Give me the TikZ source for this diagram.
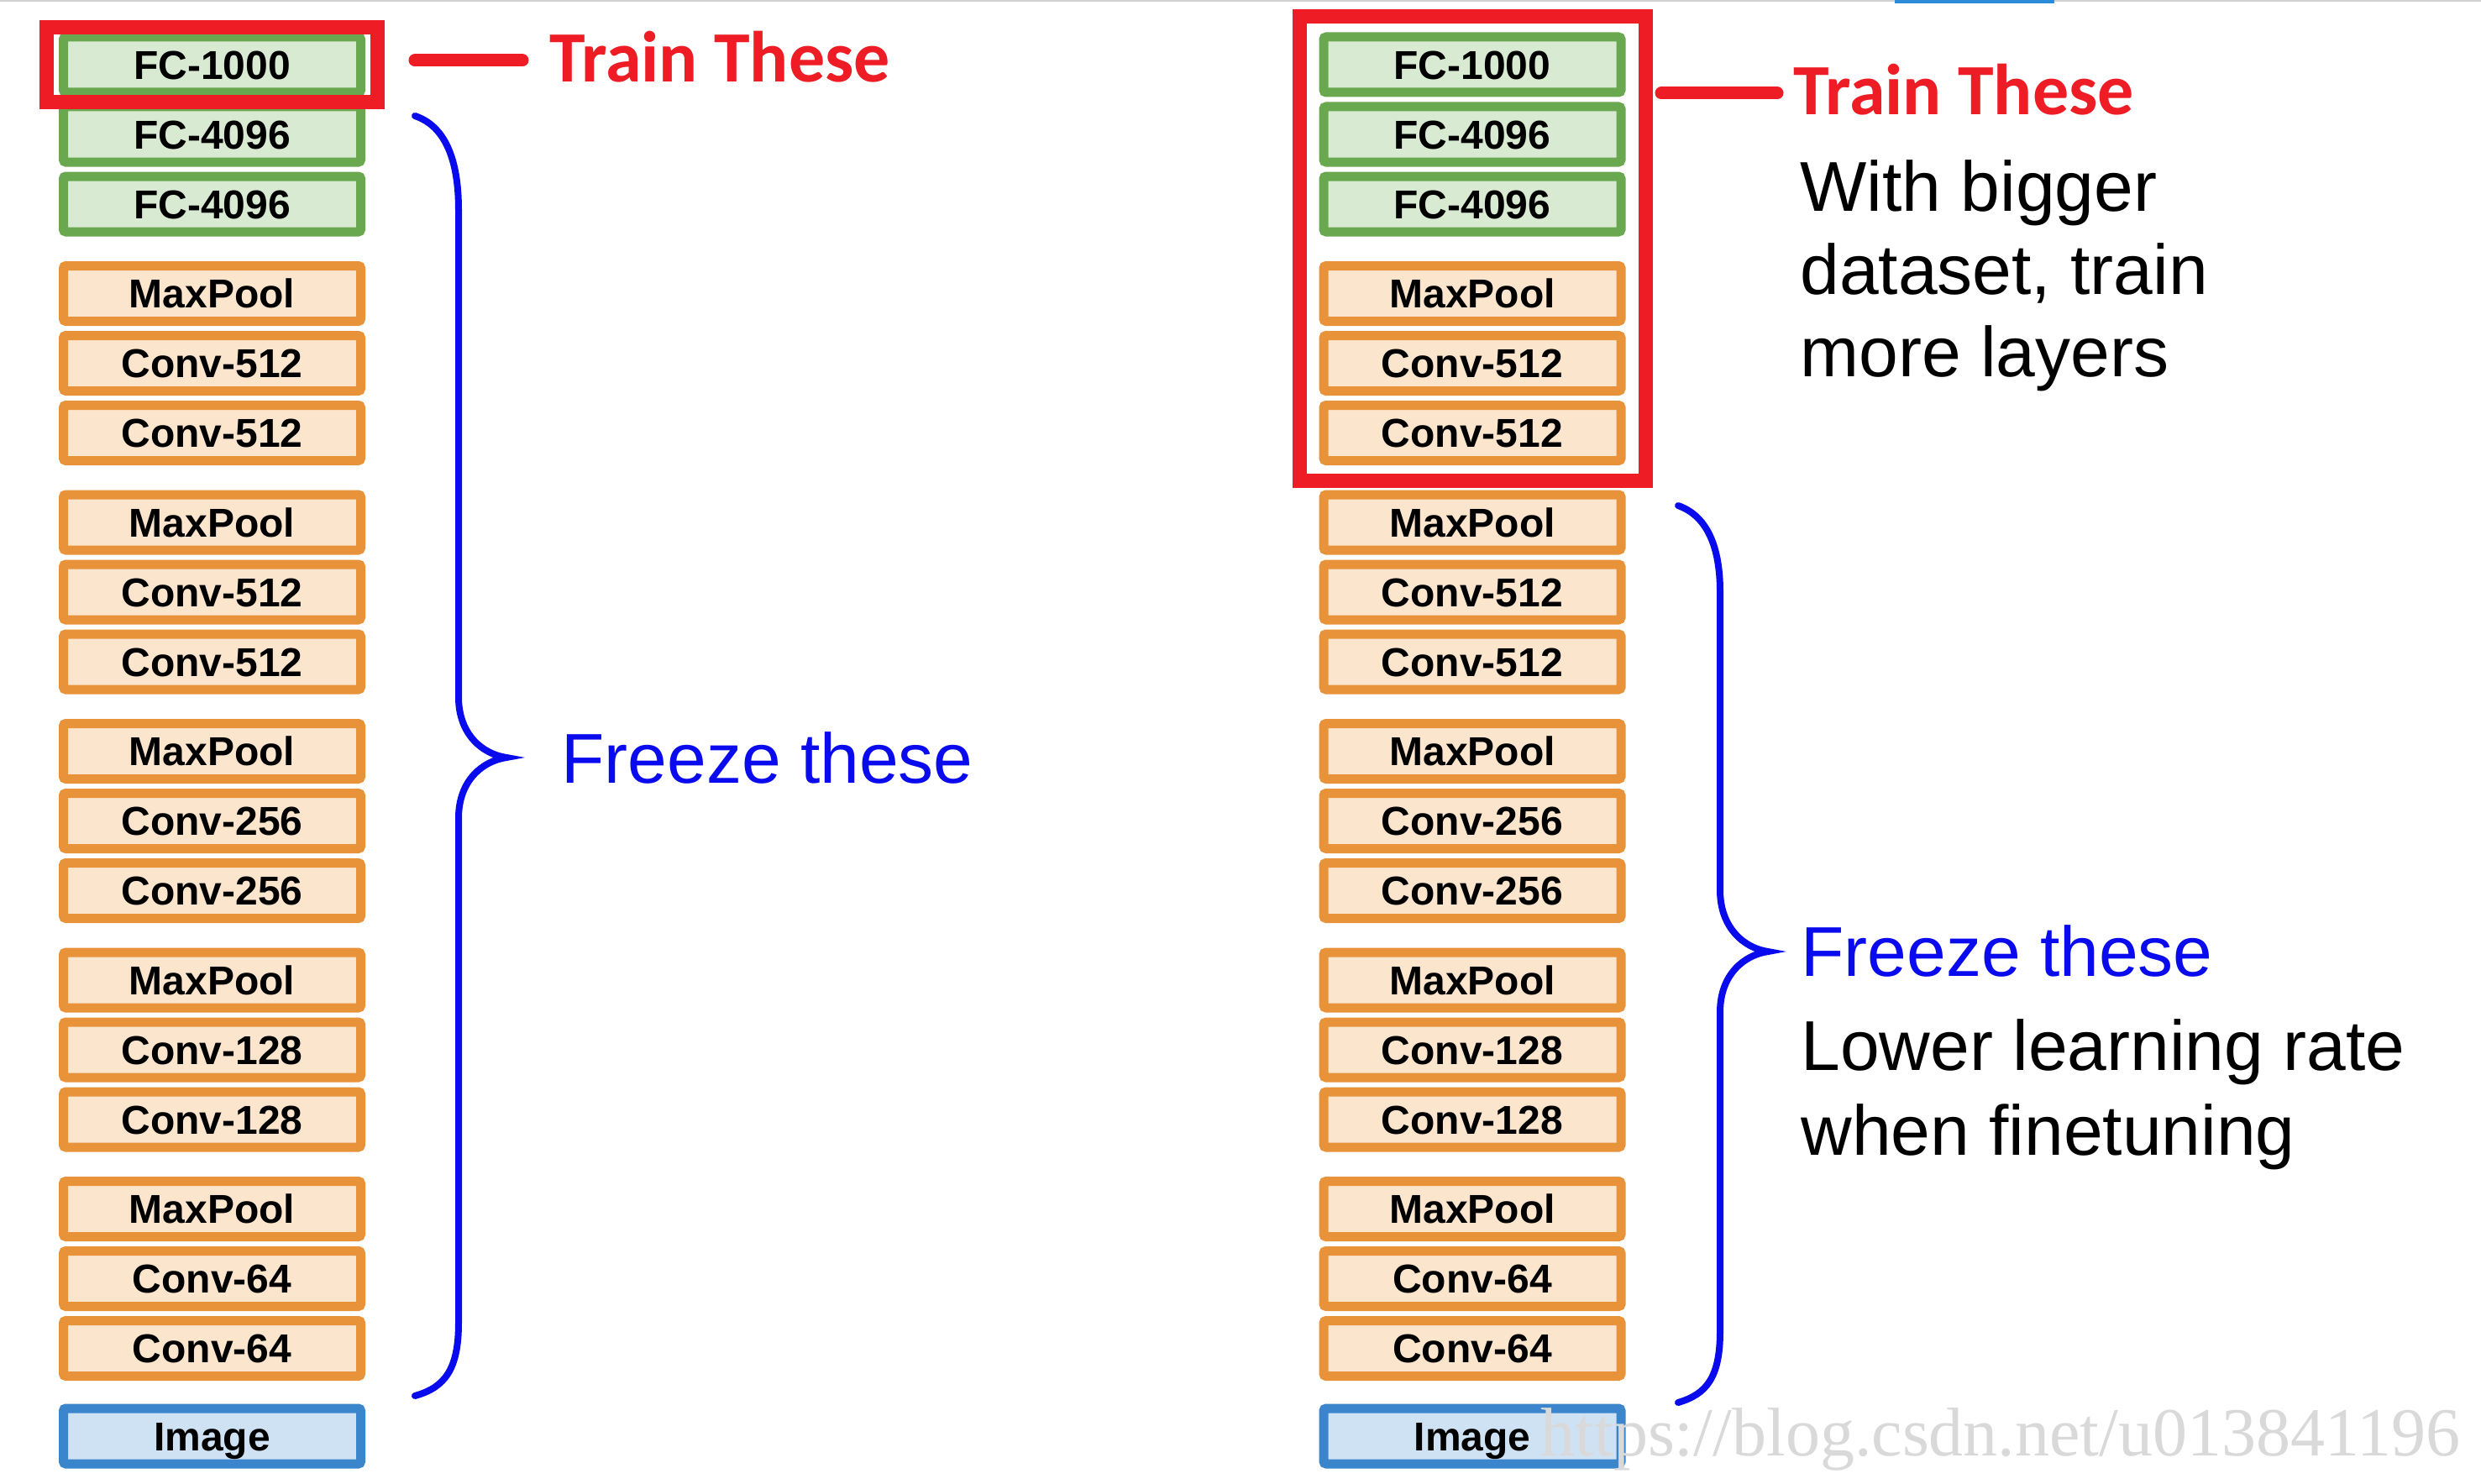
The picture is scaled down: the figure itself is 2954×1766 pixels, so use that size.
\documentclass[tikz,border=0pt]{standalone}
\usepackage{fontspec}
\setmainfont{Liberation Sans}
\newfontfamily\arialf{Liberation Sans}
\newfontfamily\calibrif{Carlito}
\newfontfamily\timesf{Liberation Serif}
\usetikzlibrary{fit}
\definecolor{gbord}{HTML}{6AA84F}
\definecolor{gfill}{HTML}{D9EAD3}
\definecolor{obord}{HTML}{E8923A}
\definecolor{ofill}{HTML}{FCE5CD}
\definecolor{bbord}{HTML}{3A85CC}
\definecolor{bfill}{HTML}{CFE2F3}
\definecolor{redc}{HTML}{EE1C24}
\definecolor{bluec}{HTML}{0A0AEE}
\definecolor{topblue}{HTML}{2B8BD8}
\tikzset{
  layer/.style={draw, line width=5.5pt, rounded corners=1.5pt,
    minimum width=177pt, minimum height=33pt, inner sep=0pt,
    text height=17.2pt, text depth=0pt,
    font=\arialf\bfseries\fontsize{24}{28}\selectfont},
  fcbox/.style={layer, draw=gbord, fill=gfill},
  cvbox/.style={layer, draw=obord, fill=ofill},
  imbox/.style={layer, draw=bbord, fill=bfill},
  redframe/.style={draw=redc, line width=8.5pt},
  redline/.style={draw=redc, line width=7.5pt, line cap=round},
  redtitle/.style={anchor=base west, inner sep=0pt, text=redc,
    font=\calibrif\bfseries\fontsize{43}{50}\selectfont},
  bluetxt/.style={anchor=base west, inner sep=0pt, text=bluec,
    font=\arialf\fontsize{42}{50}\selectfont},
  blacktxt/.style={anchor=base west, inner sep=0pt, text=black,
    font=\arialf\fontsize{42}{50}\selectfont},
  bracestyle/.style={draw=bluec, line width=4pt, line cap=round},
  wmark/.style={anchor=base west, inner sep=0pt, text=black!15,
    font=\timesf\fontsize{41}{48}\selectfont}
}
\begin{document}
\begin{tikzpicture}[x=0.5pt,y=-0.5pt]
\useasboundingbox (0,0) rectangle (2954,1766);
\fill[white] (0,0) rectangle (2954,1766);
% top screenshot artifacts
\draw[black!18, line width=1pt] (0,1) -- (2954,1);
\draw[topblue, line width=2pt] (2256,2) -- (2446,2);

% layer stacks
\foreach \st/\lab [count=\i from 0] in {fcbox/FC-1000, fcbox/FC-4096, fcbox/FC-4096,
  cvbox/MaxPool, cvbox/Conv-512, cvbox/Conv-512,
  cvbox/MaxPool, cvbox/Conv-512, cvbox/Conv-512,
  cvbox/MaxPool, cvbox/Conv-256, cvbox/Conv-256,
  cvbox/MaxPool, cvbox/Conv-128, cvbox/Conv-128,
  cvbox/MaxPool, cvbox/Conv-64, cvbox/Conv-64}{
  \pgfmathsetmacro\yy{77 + int(\i/3)*272.5 + mod(\i,3)*83}
  \node[\st] (L\i) at (252.5,\yy) {\lab};
  \node[\st] (R\i) at (1753,\yy) {\lab};
}
\node[imbox] (L18) at (252.5,1710) {Image};
\node[imbox] (R18) at (1753,1710) {Image};

% red frames
\node[redframe, inner xsep=7.25pt, inner ysep=3pt, fit=(L0)] (trainL) {};
\node[redframe, inner xsep=11.75pt, inner ysep=9.25pt, fit=(R0)(R5)] (trainR) {};

% red pointer lines
\coordinate (pl1) at (494,72);
\coordinate (pl2) at (622,72);
\coordinate (pr1) at (1978,111);
\coordinate (pr2) at (2116,111);
\draw[redline] (pl1) -- (pl2);
\draw[redline] (pr1) -- (pr2);

% titles
\node[redtitle] (ttL) at (654,97.5) {Train These};
\node[redtitle] (ttR) at (2135,136) {Train These};

% right top explanation
\node[blacktxt] (w1) at (2143,251) {With bigger};
\node[blacktxt] (w2) at (2143,350) {dataset, train};
\node[blacktxt] (w3) at (2143,448) {more layers};

% braces
\draw[bracestyle] (494,138) .. controls (530,150) and (546,190) .. (546,250)
  -- (546,830) .. controls (546,875) and (575,898) .. (603,902)
  .. controls (575,906) and (546,929) .. (546,974)
  -- (546,1575) .. controls (546,1630) and (530,1652) .. (494,1662);
\draw[bracestyle] (1998,602) .. controls (2032,614) and (2048,650) .. (2048,705)
  -- (2048,1060) .. controls (2048,1105) and (2077,1129) .. (2105,1133)
  .. controls (2077,1137) and (2048,1160) .. (2048,1205)
  -- (2048,1585) .. controls (2048,1640) and (2032,1660) .. (1998,1670);

% freeze labels
\node[bluetxt] (fzL) at (668,932) {Freeze these};
\node[bluetxt] (fzR) at (2144,1162) {Freeze these};
\node[blacktxt] (lr1) at (2144,1274) {Lower learning rate};
\node[blacktxt] (lr2) at (2144,1375) {when finetuning};

% watermark
\node[wmark] (wm) at (1834,1733) {https://blog.csdn.net/u013841196};
\end{tikzpicture}
\end{document}
